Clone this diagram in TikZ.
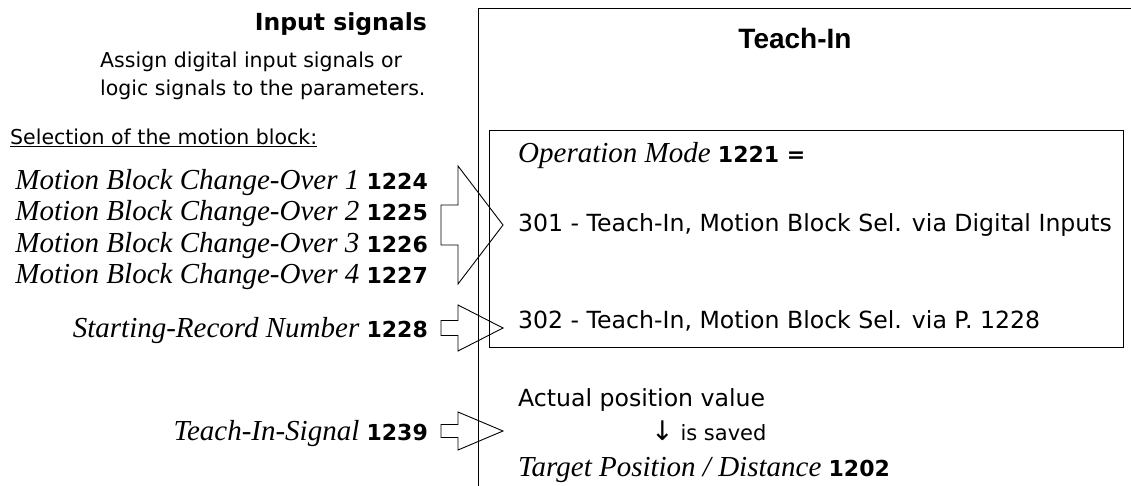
\documentclass[tikz,border=0pt]{standalone}
\usepackage{fontspec}
\setmainfont{Liberation Serif}
\newfontfamily\tahfont{DejaVu Sans}
\newfontfamily\arifont{Liberation Sans}
\usetikzlibrary{positioning}

% parameter number in bold sans
\newcommand{\parno}[1]{{\tahfont\upshape\bfseries\fontsize{22}{26}\selectfont #1}}
% block arrow: tip y, half tail, half head
\newcommand{\sigarrow}[3]{%
  \draw[blk] (441,{#1-#2}) -- (458,{#1-#2}) -- (458,{#1-#3}) -- (503,#1)
    -- (458,{#1+#3}) -- (458,{#1+#2}) -- (441,{#1+#2}) -- cycle;}

\begin{document}
\begin{tikzpicture}[
  x=1pt, y=-1pt,
  hdr/.style={font={\tahfont\bfseries\fontsize{23.5}{28}\selectfont}, inner sep=0pt},
  note/.style={font={\tahfont\fontsize{20.5}{28}\selectfont}, inner sep=0pt, align=left},
  prm/.style={font={\itshape\fontsize{29}{31}\selectfont}, inner sep=0pt, anchor=base east},
  txt/.style={font={\tahfont\fontsize{23.6}{28}\selectfont}, inner sep=0pt, anchor=base west},
  blk/.style={draw, line width=0.9pt, line join=miter},
  frm/.style={draw, line width=1pt},
]
\useasboundingbox (0,0) rectangle (1131,486);

% ---------- input side ----------
\node[hdr, anchor=base east] (insig) at (427,31) {Input signals};
\node[note, anchor=base west] (assign) at (100,96) {Assign digital input signals or\\logic signals to the parameters.};
\node[note, anchor=base west] (sel) at (10,145) {\underline{Selection of the motion block:}};

\foreach \n/\p [count=\i] in {1/1224,2/1225,3/1226,4/1227}
  \node[prm] (mb\n) at (428,{159+31*\i}) {Motion Block Change-Over \n\ \parno{\p}};
\node[prm] (start) at (428,337) {Starting-Record Number \parno{1228}};
\node[prm] (tsig) at (428,440) {Teach-In-Signal \parno{1239}};

% ---------- block arrows ----------
\sigarrow{225}{20}{59}
\sigarrow{328}{7.5}{23}
\sigarrow{431}{6.5}{19}

% ---------- Teach-In panel ----------
\draw[frm] (1131,9) -- (478,9) -- (478,486);
\node[font={\arifont\bfseries\fontsize{28}{32}\selectfont}, inner sep=0pt] (ttl) at (795,38) {Teach-In};
\draw[frm] (489,131) rectangle (1123,347);

\node[txt] (opm) at (518,163) {\rmfamily\itshape\fontsize{29}{31}\selectfont Operation Mode \parno{1221 =}};
\node[txt] (m301) at (518,232) {301 - Teach-In, Motion Block Sel. via Digital Inputs};
\node[txt] (m302) at (518,328) {302 - Teach-In, Motion Block Sel. via P. 1228};

\node[txt] (act) at (518,406) {Actual position value};
\node[txt, font={\tahfont\fontsize{21}{24}\selectfont}] (saved) at (651,440) {{\fontsize{27}{27}\selectfont ↓} is saved};
\node[prm, anchor=base west] (tgt) at (518,476) {Target Position / Distance \parno{1202}};

\end{tikzpicture}
\end{document}
